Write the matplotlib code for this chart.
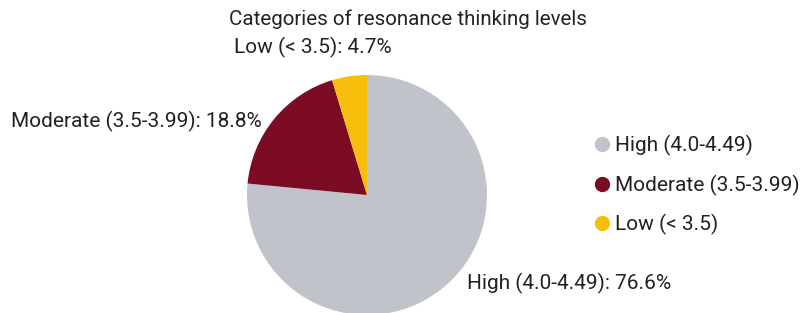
import matplotlib.pyplot as plt
from matplotlib.lines import Line2D

plt.rcParams['font.family'] = ['Roboto', 'DejaVu Sans']

categories = ["High (4.0-4.49)", "Moderate (3.5-3.99)", "Low (< 3.5)"]
shares = [76.6, 18.8, 4.7]
colors = ["#C0C4CA", "#7B0C24", "#F7BE0C"]
title = "Categories of resonance thinking levels"

W, H = 802, 313
fig = plt.figure(figsize=(W / 100, H / 100), dpi=100)

# pie: centre ~ (367, 195) px from top-left, radius ~120 px
cx, cy, r = 367, 195, 120
ax = fig.add_axes([(cx - r) / W, (H - cy - r) / H, 2 * r / W, 2 * r / H])
ax.pie(shares, colors=colors, startangle=90, counterclock=False,
       wedgeprops=dict(linewidth=0))
ax.set_xlim(-1, 1)
ax.set_ylim(-1, 1)
ax.axis("off")


def px(x, y):
    return x / W, 1 - y / H


fs = 15
fig.text(*px(408, 19), title, ha="center", va="center", fontsize=14.8, color="#222222")

label_pos = [(467, 283, "left"), (262, 121, "right"), (313, 47, "center")]
for cat, val, (x, y, ha) in zip(categories, shares, label_pos):
    fig.text(*px(x, y), f"{cat}: {val}%", ha=ha, va="center", fontsize=fs, color="#222222")

handles = [Line2D([], [], marker="o", linestyle="none", markersize=10,
                  markerfacecolor=c, markeredgecolor=c) for c in colors]
fig.legend(handles, categories, loc="center left", bbox_to_anchor=px(596, 185),
           frameon=False, fontsize=fs, handletextpad=0.33, labelspacing=0.87,
           handlelength=0.6, borderpad=0, borderaxespad=0, labelcolor="#222222")

fig.savefig("out.png", dpi=100)
